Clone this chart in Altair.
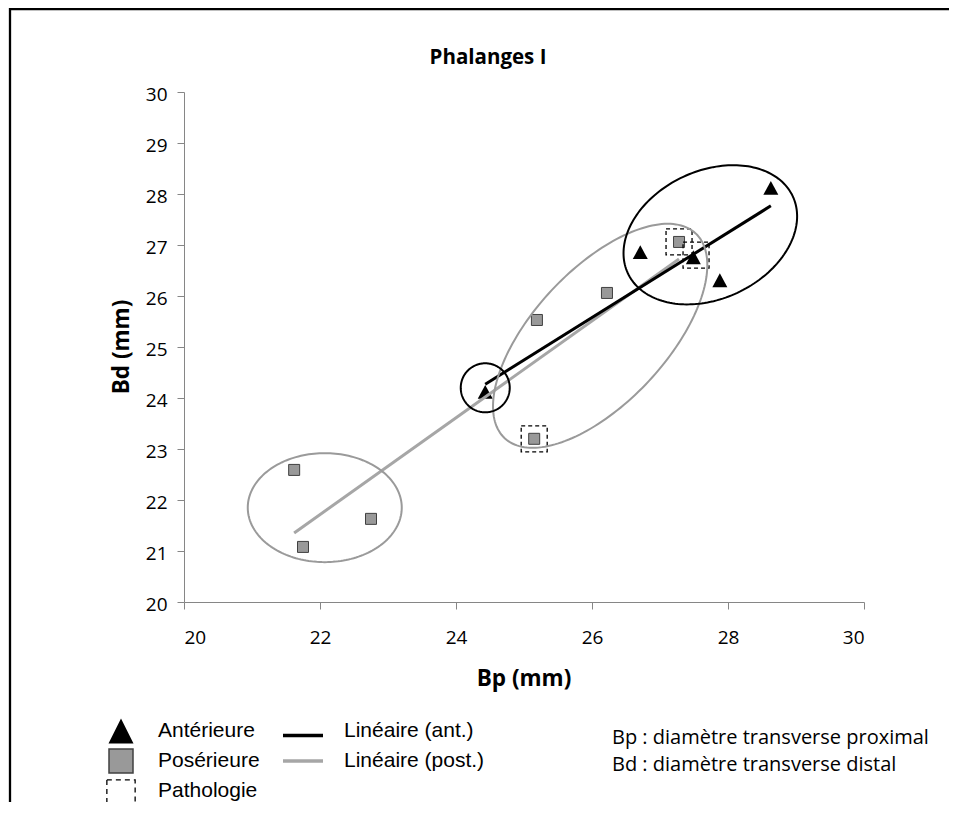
import altair as alt
import pandas as pd
import numpy as np

# ---------------- data ----------------
ant_bp = [24.43, 26.71, 27.49, 27.88, 28.63]
ant_bd = [24.12, 26.86, 26.76, 26.31, 28.12]
post_bp = [21.62, 21.75, 22.75, 25.15, 25.19, 26.22, 27.28]
post_bd = [22.59, 21.08, 21.63, 23.20, 25.53, 26.06, 27.06]
path_bp = [25.15, 27.28, 27.53]
path_bd = [23.20, 27.06, 26.80]
x_ticks = [20, 22, 24, 26, 28, 30]
y_ticks = list(range(20, 31))

# hand-drawn ellipse annotations: centre (data units), semi-axes (px), tilt (deg)
ell_black = [(27.74, 27.20, 91, 64, 25), (24.43, 24.20, 24.5, 24.5, 0)]
ell_gray = [(26.12, 25.22, 140, 66.5, 47), (22.07, 21.85, 77, 54.5, 0)]

W, H = 680, 510
XD, YD = [20, 30], [20, 30]
kx = W / (XD[1] - XD[0])
ky = H / (YD[1] - YD[0])


def ellipse_df(specs):
    rows = []
    t = np.linspace(0, 2 * np.pi, 181)
    for i, (cx, cy, a, b, ang) in enumerate(specs):
        th = np.deg2rad(ang)
        dx = a * np.cos(t) * np.cos(th) - b * np.sin(t) * np.sin(th)
        dy = a * np.cos(t) * np.sin(th) + b * np.sin(t) * np.cos(th)
        for k in range(len(t)):
            rows.append({"id": i, "k": k, "x": cx + dx[k] / kx, "y": cy + dy[k] / ky})
    return pd.DataFrame(rows)


ant = pd.DataFrame({"bp": ant_bp, "bd": ant_bd})
post = pd.DataFrame({"bp": post_bp, "bd": post_bd})
path = pd.DataFrame({"bp": path_bp, "bd": path_bd})
dummy = pd.DataFrame({"d": [0]})

TRI = "M0,-0.93L1,0.93L-1,0.93Z"
TRI_L = "M0,-1L1,1L-1,1Z"
GRAY_FILL = "#999999"
GRAY_EDGE = "#404040"
GRAY_LINE = "#a6a6a6"
GRAY_ELL = "#9a9a9a"
AXC = "#868686"
CAL = "Open Sans"

xs = alt.Scale(domain=XD, nice=False, zero=False)
ys = alt.Scale(domain=YD, nice=False, zero=False)
xaxis = alt.Axis(values=x_ticks, title=None, grid=False, domainColor=AXC, tickColor=AXC,
                 tickSize=7, labelFont=CAL, labelFontSize=19, labelColor="black",
                 labelPadding=19, format="d")
yaxis = alt.Axis(values=y_ticks, title=None, grid=False, domainColor=AXC, tickColor=AXC,
                 tickSize=7, labelFont=CAL, labelFontSize=19, labelColor="black",
                 labelPadding=10, labelOffset=2, format="d")

squares = alt.Chart(post).mark_point(shape="square", size=121, filled=True, fill=GRAY_FILL,
                                     stroke=GRAY_EDGE, strokeWidth=1, opacity=1).encode(
    x=alt.X("bp:Q", scale=xs, axis=xaxis),
    y=alt.Y("bd:Q", scale=ys, axis=yaxis),
)
tris = alt.Chart(ant).mark_point(shape=TRI, size=225, filled=True, color="black", opacity=1).encode(
    x=alt.X("bp:Q", scale=xs), y=alt.Y("bd:Q", scale=ys))
dashed = alt.Chart(path).mark_point(shape="square", size=676, filled=False, stroke="black",
                                    strokeWidth=1.3, strokeDash=[4, 3], opacity=1).encode(
    x=alt.X("bp:Q", scale=xs), y=alt.Y("bd:Q", scale=ys))

reg_post = alt.Chart(post).transform_regression("bp", "bd").mark_line(
    color=GRAY_LINE, strokeWidth=3).encode(x=alt.X("bp:Q", scale=xs), y=alt.Y("bd:Q", scale=ys))
reg_ant = alt.Chart(ant).transform_regression("bp", "bd").mark_line(
    color="black", strokeWidth=3).encode(x=alt.X("bp:Q", scale=xs), y=alt.Y("bd:Q", scale=ys))

e_gray = alt.Chart(ellipse_df(ell_gray)).mark_line(color=GRAY_ELL, strokeWidth=2).encode(
    x=alt.X("x:Q", scale=xs), y=alt.Y("y:Q", scale=ys), detail="id:N", order="k:Q")
e_black = alt.Chart(ellipse_df(ell_black)).mark_line(color="black", strokeWidth=2).encode(
    x=alt.X("x:Q", scale=xs), y=alt.Y("y:Q", scale=ys), detail="id:N", order="k:Q")


def txt(s, x, y, font="Liberation Sans", size=21, bold=False, align="left", baseline="alphabetic", angle=0):
    return alt.Chart(dummy).mark_text(text=s, font=font, fontSize=size, align=align,
                                      baseline=baseline, angle=angle, color="black",
                                      fontWeight="bold" if bold else "normal").encode(
        x=alt.value(x), y=alt.value(y))


title = txt("Phalanges I", 304, -28, font=CAL, size=20.5, bold=True, align="center")
xtitle = txt("Bp (mm)", 340, 594, font=CAL, size=22.5, bold=True, align="center")
ytitle = txt("Bd (mm)", -62, 255, font=CAL, size=22.5, bold=True, align="center",
             baseline="middle", angle=270)

# legend
leg_tri = alt.Chart(dummy).mark_point(shape=TRI_L, size=625, filled=True, color="black", opacity=1).encode(
    x=alt.value(-63), y=alt.value(639))
leg_sq = alt.Chart(dummy).mark_point(shape="square", size=576, filled=True, fill=GRAY_FILL,
                                     stroke=GRAY_EDGE, strokeWidth=1.5, opacity=1).encode(
    x=alt.value(-63), y=alt.value(669))
leg_dash = alt.Chart(dummy).mark_point(shape="square", size=800, filled=False, stroke="black",
                                       strokeWidth=1.3, strokeDash=[5, 4], opacity=1).encode(
    x=alt.value(-63), y=alt.value(702))
leg_l1 = alt.Chart(dummy).mark_rule(color="black", strokeWidth=3.5).encode(
    x=alt.value(99), x2=alt.value(139), y=alt.value(643.5))
leg_l2 = alt.Chart(dummy).mark_rule(color=GRAY_LINE, strokeWidth=3.5).encode(
    x=alt.value(99), x2=alt.value(139), y=alt.value(669))
leg_texts = [
    txt("Antérieure", -26, 645),
    txt("Posérieure", -26, 675),
    txt("Pathologie", -26, 705),
    txt("Linéaire (ant.)", 160, 645),
    txt("Linéaire (post.)", 160, 675),
    txt("Bp : diamètre transverse proximal", 428, 652, font=CAL, size=20),
    txt("Bd : diamètre transverse distal", 428, 679, font=CAL, size=20),
]

# outer frame of the chart area
frame_top = alt.Chart(dummy).mark_rule(color="black", strokeWidth=2.3).encode(
    x=alt.value(-174), x2=alt.value(765), y=alt.value(-83))
frame_left = alt.Chart(dummy).mark_rule(color="black", strokeWidth=2.3).encode(
    x=alt.value(-174), y=alt.value(-84), y2=alt.value(760))

chart = alt.layer(
    squares, tris, dashed, reg_post, reg_ant, e_gray, e_black,
    title, xtitle, ytitle,
    leg_tri, leg_sq, leg_dash, leg_l1, leg_l2, *leg_texts,
    frame_top, frame_left,
).properties(
    width=W, height=H,
    autosize="none",
    padding={"left": 176, "top": 84, "right": 85, "bottom": 200},
).configure_view(stroke=None)

chart.save("out.html", embed_options={"renderer": "svg", "actions": False})
